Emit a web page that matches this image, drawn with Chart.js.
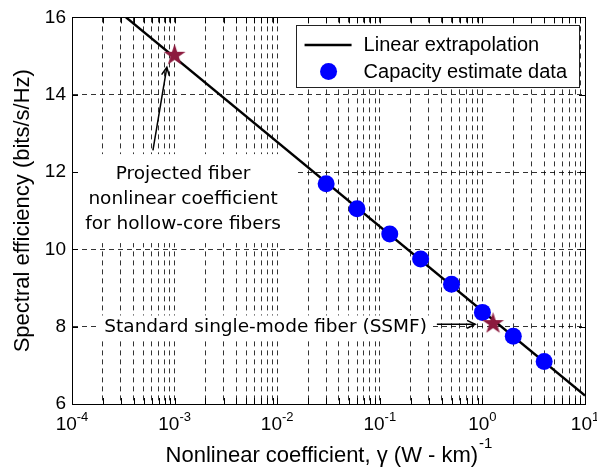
<!DOCTYPE html>
<html><head><meta charset="utf-8">
<script src="https://cdn.jsdelivr.net/npm/chart.js@4/dist/chart.umd.min.js"></script>
<style>html,body{margin:0;padding:0;background:#fff;overflow:hidden}</style>
</head><body>
<canvas id="c" width="597" height="467" style="display:block;width:597px;height:467px"></canvas>
<script>
// ---- data ----
const gammaValues = [0.03, 0.06, 0.125, 0.25, 0.5, 1, 2, 4];
const spectralEfficiency = [11.7, 11.05, 10.4, 9.75, 9.1, 8.37, 7.75, 7.1];
const fitGamma = [3.36e-4, 10];
const fitEfficiency = [16, 6.22];
const starGamma = [1e-3, 1.27];
const starEfficiency = [15.02, 8.08];
const xDecadeValues = [1e-4, 1e-3, 1e-2, 1e-1, 1, 10];
const xDecadeExponents = ['-4', '-3', '-2', '-1', '0', '1'];
const yTickValues = [6, 8, 10, 12, 14, 16];
const legendLabels = ['Linear extrapolation', 'Capacity estimate data'];
const xTitle = 'Nonlinear coefficient, \u03b3 (W - km)';
const xTitleExponent = '-1';
const yTitle = 'Spectral efficiency (bits/s/Hz)';
const hollowNoteLines = ['Projected fiber', 'nonlinear coefficient', 'for hollow-core fibers'];
const hollowNoteAnchor = [1.21e-3, 11.30];
const hollowArrow = [[6.15e-4, 12.56], [8.4e-4, 14.71]];
const ssmfNote = 'Standard single-mode fiber (SSMF)';
const ssmfNoteAnchor = [0.288, 7.98];
const ssmfArrow = [[0.36, 8.06], [0.85, 8.06]];

// all log grid positions (1..9 x 10^n)
const xGridValues = [];
for (let d = -4; d <= 0; d++) for (let m = 1; m <= 9; m++) xGridValues.push(m * Math.pow(10, d));
xGridValues.push(10);

const SANS = '"Liberation Sans", Arial, sans-serif';
const NOTE = '"DejaVu Sans", Verdana, sans-serif';
const STAR_COLOR = '#8c1a3e';
const BLUE = '#0000ff';

function makeStar(R, color) {
  const r = R * 0.382;
  const size = Math.ceil(2 * R) + 2;
  const c = document.createElement('canvas');
  c.width = size; c.height = size;
  const g = c.getContext('2d');
  g.translate(size / 2, size / 2);
  g.beginPath();
  for (let i = 0; i < 10; i++) {
    const rad = i % 2 === 0 ? R : r;
    const a = -Math.PI / 2 + i * Math.PI / 5;
    const px = rad * Math.cos(a), py = rad * Math.sin(a);
    if (i === 0) g.moveTo(px, py); else g.lineTo(px, py);
  }
  g.closePath();
  g.fillStyle = color; g.fill();
  return c;
}
const starImg = makeStar(11.5, STAR_COLOR);

function arrow(ctx, x1, y1, x2, y2) {
  ctx.save();
  ctx.strokeStyle = '#000'; ctx.lineWidth = 1.5;
  ctx.beginPath(); ctx.moveTo(x1, y1); ctx.lineTo(x2, y2); ctx.stroke();
  const a = Math.atan2(y2 - y1, x2 - x1), L = 9, w = 0.45;
  ctx.beginPath();
  ctx.moveTo(x2 - L * Math.cos(a - w), y2 - L * Math.sin(a - w));
  ctx.lineTo(x2, y2);
  ctx.lineTo(x2 - L * Math.cos(a + w), y2 - L * Math.sin(a + w));
  ctx.stroke();
  ctx.restore();
}

const decor = {
  id: 'decor',
  beforeDatasetsDraw(chart) {
    const {ctx, scales: {x, y}} = chart;
    ctx.save();
    // hollow-core note
    ctx.font = '18.5px ' + NOTE;
    const cx = x.getPixelForValue(hollowNoteAnchor[0]);
    const cy = y.getPixelForValue(hollowNoteAnchor[1]);
    const lh = 25;
    let maxW = 0;
    hollowNoteLines.forEach(t => { maxW = Math.max(maxW, ctx.measureText(t).width); });
    ctx.fillStyle = '#fff';
    ctx.fillRect(cx - maxW / 2 - 5, cy - lh - 20, maxW + 22, 2 * lh + 39);
    ctx.fillStyle = '#000'; ctx.textAlign = 'center'; ctx.textBaseline = 'middle';
    hollowNoteLines.forEach((t, i) => ctx.fillText(t, cx, cy + (i - 1) * lh));
    // SSMF note
    const rx = x.getPixelForValue(ssmfNoteAnchor[0]);
    const ry = y.getPixelForValue(ssmfNoteAnchor[1]);
    const w2 = ctx.measureText(ssmfNote).width;
    ctx.fillStyle = '#fff';
    ctx.fillRect(rx - w2 - 6, ry - 12, w2 + 11, 25);
    ctx.fillStyle = '#000'; ctx.textAlign = 'right';
    ctx.fillText(ssmfNote, rx, ry);
    ctx.restore();
  },
  afterDatasetsDraw(chart) {
    const {ctx, chartArea: ca, scales: {x, y}} = chart;
    ctx.save();
    // arrows
    arrow(ctx, x.getPixelForValue(hollowArrow[0][0]), y.getPixelForValue(hollowArrow[0][1]),
               x.getPixelForValue(hollowArrow[1][0]), y.getPixelForValue(hollowArrow[1][1]));
    arrow(ctx, x.getPixelForValue(ssmfArrow[0][0]), y.getPixelForValue(ssmfArrow[0][1]),
               x.getPixelForValue(ssmfArrow[1][0]), y.getPixelForValue(ssmfArrow[1][1]));
    // inner ticks
    ctx.strokeStyle = '#000'; ctx.lineWidth = 1;
    ctx.beginPath();
    xGridValues.forEach(v => {
      const px = Math.round(x.getPixelForValue(v)) + 0.5;
      ctx.moveTo(px, ca.bottom); ctx.lineTo(px, ca.bottom - 6);
      ctx.moveTo(px, ca.top); ctx.lineTo(px, ca.top + 6);
    });
    yTickValues.forEach(v => {
      const py = Math.round(y.getPixelForValue(v)) + 0.5;
      ctx.moveTo(ca.left, py); ctx.lineTo(ca.left + 6, py);
      ctx.moveTo(ca.right, py); ctx.lineTo(ca.right - 6, py);
    });
    ctx.stroke();
    // box
    ctx.strokeRect(Math.round(ca.left) + 0.5, Math.round(ca.top) + 0.5,
                   Math.round(ca.right - ca.left), Math.round(ca.bottom - ca.top));
    // legend
    ctx.font = '20px ' + SANS;
    const tw = Math.max(...legendLabels.map(t => ctx.measureText(t).width));
    const right = ca.right - 6, left = right - (68 + tw + 12);
    const top = ca.top + 8, bottom = top + 62;
    ctx.fillStyle = '#fff';
    ctx.fillRect(left, top, right - left, bottom - top);
    ctx.strokeStyle = '#222'; ctx.lineWidth = 1;
    ctx.strokeRect(Math.round(left) + 0.5, Math.round(top) + 0.5, Math.round(right - left), Math.round(bottom - top));
    ctx.strokeStyle = '#000'; ctx.lineWidth = 2.5;
    ctx.beginPath(); ctx.moveTo(left + 9, top + 19.5); ctx.lineTo(left + 56, top + 19.5); ctx.stroke();
    ctx.fillStyle = BLUE;
    ctx.beginPath(); ctx.arc(left + 33, top + 46, 8.5, 0, Math.PI * 2); ctx.fill();
    ctx.fillStyle = '#000'; ctx.textAlign = 'left'; ctx.textBaseline = 'middle';
    ctx.fillText(legendLabels[0], left + 68, top + 20);
    ctx.fillText(legendLabels[1], left + 68, top + 47);
    ctx.restore();
  },
  afterDraw(chart) {
    const {ctx, chartArea: ca, scales: {x}} = chart;
    ctx.save();
    ctx.fillStyle = '#000'; ctx.textAlign = 'left'; ctx.textBaseline = 'alphabetic';
    // x tick labels
    xDecadeValues.forEach((v, i) => {
      const px = x.getPixelForValue(v);
      ctx.font = '19px ' + SANS;
      const w1 = ctx.measureText('10').width;
      ctx.font = '13px ' + SANS;
      const w2 = ctx.measureText(xDecadeExponents[i]).width;
      const sx = px - (w1 + w2) / 2;
      ctx.font = '19px ' + SANS;
      ctx.fillText('10', sx, ca.bottom + 26);
      ctx.font = '13px ' + SANS;
      ctx.fillText(xDecadeExponents[i], sx + w1, ca.bottom + 17);
    });
    // x title
    ctx.font = '22px ' + SANS;
    const tw = ctx.measureText(xTitle).width;
    ctx.font = '15px ' + SANS;
    const ew = ctx.measureText(xTitleExponent).width;
    const sx = (ca.left + ca.right) / 2 - (tw + ew) / 2;
    ctx.font = '22px ' + SANS;
    ctx.fillText(xTitle, sx, ca.bottom + 58);
    ctx.font = '15px ' + SANS;
    ctx.fillText(xTitleExponent, sx + tw + 1, ca.bottom + 44);
    ctx.restore();
  }
};

new Chart(document.getElementById('c'), {
  type: 'scatter',
  data: {
    datasets: [
      {
        label: 'Stars', data: starGamma.map((v, i) => ({x: v, y: starEfficiency[i]})),
        pointStyle: starImg, pointRadius: 11, order: 1
      },
      {
        label: legendLabels[1], data: gammaValues.map((v, i) => ({x: v, y: spectralEfficiency[i]})),
        backgroundColor: BLUE, borderColor: BLUE, borderWidth: 0, pointRadius: 8.5, order: 2
      },
      {
        label: legendLabels[0], data: fitGamma.map((v, i) => ({x: v, y: fitEfficiency[i]})),
        showLine: true, borderColor: '#000', borderWidth: 2.5, pointRadius: 0, fill: false, order: 3
      }
    ]
  },
  options: {
    responsive: false, animation: false, devicePixelRatio: 1,
    layout: {padding: {top: 15, right: 12, left: 0, bottom: 0}},
    plugins: {legend: {display: false}, tooltip: {enabled: false}},
    scales: {
      x: {
        type: 'logarithmic', min: 1e-4, max: 10,
        afterBuildTicks: s => { s.ticks = xGridValues.map(v => ({value: v})); },
        afterFit: s => { s.height = 63; },
        ticks: {display: false},
        grid: {color: 'rgba(0,0,0,0.8)', lineWidth: 1, drawTicks: false},
        border: {display: true, color: '#000', width: 1, dash: [5, 4]}
      },
      y: {
        min: 6, max: 16,
        afterBuildTicks: s => { s.ticks = yTickValues.map(v => ({value: v})); },
        afterFit: s => { s.width = 72; },
        ticks: {color: '#000', font: {family: SANS, size: 19}, padding: 6},
        grid: {color: 'rgba(0,0,0,0.8)', lineWidth: 1, drawTicks: false},
        border: {display: true, color: '#000', width: 1, dash: [5, 4]},
        title: {display: true, text: yTitle, color: '#000', font: {family: SANS, size: 22}, padding: {top: 10, bottom: 0}}
      }
    }
  },
  plugins: [decor]
});
</script>
</body></html>
